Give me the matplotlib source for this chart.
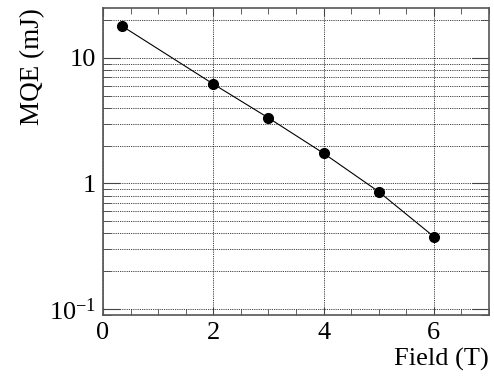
import numpy as np
import matplotlib
matplotlib.use("Agg")
import matplotlib.pyplot as plt
from matplotlib.ticker import FixedLocator, FuncFormatter, LogLocator, NullFormatter

plt.rcParams["font.family"] = "Liberation Serif"
plt.rcParams["mathtext.fontset"] = "custom"
plt.rcParams["mathtext.rm"] = "Liberation Serif"

field = [0.35, 2, 3, 4, 5, 6]
mqe = [17.9, 6.2, 3.33, 1.74, 0.86, 0.377]

fig = plt.figure(figsize=(4.94, 3.76), dpi=100)
ax = fig.add_axes([103 / 494, 1 - 315 / 376, (489 - 103) / 494, (315 - 8) / 376])

ax.plot(field, mqe, color="black", lw=0.8, marker="o", ms=7, zorder=3)

ax.set_yscale("log")
ax.set_xlim(0, 7)
ax.set_ylim(0.0896, 25)

ax.xaxis.set_major_locator(FixedLocator([0, 2, 4, 6]))
ax.xaxis.set_minor_locator(FixedLocator(np.arange(0, 7.01, 0.5)))
ax.yaxis.set_major_locator(LogLocator(base=10, numticks=10))
ax.yaxis.set_minor_locator(LogLocator(base=10, subs=np.arange(2, 10), numticks=10))
ax.yaxis.set_minor_formatter(NullFormatter())


def ylab(v, pos):
    if abs(v - 10) < 1e-6:
        return "10"
    if abs(v - 1) < 1e-6:
        return "1"
    if abs(v - 0.1) < 1e-6:
        return r"$\mathregular{10^{-1}}$"
    return ""


ax.yaxis.set_major_formatter(FuncFormatter(ylab))

ax.tick_params(which="both", direction="in", top=True, right=True, labelsize=19, color="#444444")
ax.tick_params(axis="y", which="major", length=12, pad=5)
ax.tick_params(axis="y", which="minor", length=6)
ax.tick_params(axis="x", which="major", length=6, pad=5)
ax.tick_params(axis="x", which="minor", length=4)

ax.grid(True, which="major", axis="x", ls=(0, (1, 1.2)), color="black", lw=0.6)
ax.grid(True, which="both", axis="y", ls=(0, (1, 1.2)), color="black", lw=0.6)

for s in ax.spines.values():
    s.set_color("#555555")
    s.set_linewidth(1.2)

ax.set_xlabel("Field (T)", fontsize=19, loc="right", labelpad=3)
ax.set_ylabel("MQE (mJ)", fontsize=19.5, loc="top", labelpad=3)

fig.savefig("out.png", dpi=100)
